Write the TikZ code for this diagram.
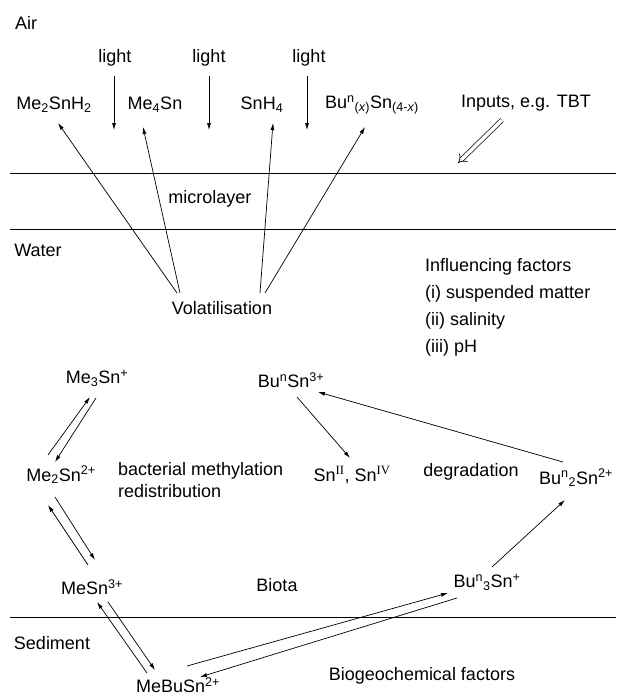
\documentclass[tikz,border=0pt]{standalone}
\usepackage{fontspec}
\setmainfont{Liberation Sans}
\newfontfamily\serifroman{Liberation Serif}
\usetikzlibrary{arrows.meta}
\tikzset{
  lbl/.style={inner sep=0pt, font=\fontsize{18}{21}\selectfont},
  arr/.style={line width=0.7pt, -{Latex[length=7pt,width=4pt]}},
  layer/.style={line width=0.9pt},
}
\begin{document}
\begin{tikzpicture}[x=1pt,y=-1pt]
\useasboundingbox (0,0) rectangle (616,696);
% layer boundaries
\draw[layer] (10,173) -- (616,173);
\draw[layer] (10,229) -- (616,229);
\draw[layer] (10,617) -- (616,617);
% region labels
\node[lbl] (air) at (26,23) {Air};
\node[lbl] (micro) at (210,199) {microlayer};
\node[lbl] (water) at (38,250) {Water};
\node[lbl] (sed) at (52,643) {Sediment};
% light
\node[lbl] (light1) at (115,58) {light};
\node[lbl] (light2) at (209,58) {light};
\node[lbl] (light3) at (309,58) {light};
\coordinate (l1e) at (114,130);
\coordinate (l2e) at (209,130);
\coordinate (l3e) at (307,130);
\draw[arr] ([shift={(-1,18)}]light1.center) -- (l1e);
\draw[arr] ([shift={(0,18)}]light2.center) -- (l2e);
\draw[arr] ([shift={(-2,18)}]light3.center) -- (l3e);
% volatile species
\node[lbl] (me2snh2) at (54,105) {Me\textsubscript{2}SnH\textsubscript{2}};
\node[lbl] (me4sn) at (155,105) {Me\textsubscript{4}Sn};
\node[lbl] (snh4) at (262,105) {SnH\textsubscript{4}};
\node[lbl] (buxsn) at (372,105) {Bu\textsuperscript{n}\textsubscript{(\textit{x})}Sn\textsubscript{(4-\textit{x})}};
\node[lbl] (inputs) at (526,103) {Inputs, e.g. TBT};
\coordinate (intip) at (458,163);
\draw[line width=0.7pt, double, double distance=3.5pt, -{Implies}] ([shift={(-24,17)}]inputs.center) -- (intip);
% volatilisation
\node[lbl] (vol) at (222,308) {Volatilisation};
\draw[arr] ([shift={(-45,-15)}]vol.center) -- ([shift={(4,18)}]me2snh2.center);
\draw[arr] ([shift={(-42,-15)}]vol.center) -- ([shift={(-12,22)}]me4sn.center);
\draw[arr] ([shift={(38,-15)}]vol.center) -- ([shift={(11,18)}]snh4.center);
\draw[arr] ([shift={(43,-15)}]vol.center) -- ([shift={(-7,22)}]buxsn.center);
% influencing factors
\node[lbl, anchor=west] (inf0) at (425,267) {Influencing factors};
\node[lbl, anchor=west] (inf1) at (425,294) {(i) suspended matter};
\node[lbl, anchor=west] (inf2) at (425,321) {(ii) salinity};
\node[lbl, anchor=west] (inf3) at (425,348) {(iii) pH};
% methyltins
\node[lbl] (me3) at (97,378) {Me\textsubscript{3}Sn\textsuperscript{+}};
\node[lbl] (me2) at (61,475) {Me\textsubscript{2}Sn\textsuperscript{2+}};
\node[lbl] (mesn) at (92,587) {MeSn\textsuperscript{3+}};
\node[lbl] (mebu) at (178,685) {MeBuSn\textsuperscript{2+}};
\node[lbl, anchor=west] (bact) at (118,471) {bacterial methylation};
\node[lbl, anchor=west] (redis) at (118,491) {redistribution};
\node[lbl] (biota) at (277,585) {Biota};
% butyltins
\node[lbl] (bu1) at (291,380) {Bu\textsuperscript{n}Sn\textsuperscript{3+}};
\node[lbl] (inorg) at (352,475) {Sn\textsuperscript{\serifroman II}, Sn\textsuperscript{\serifroman IV}};
\node[lbl] (degr) at (471,472) {degradation};
\node[lbl] (bu2) at (576,478) {Bu\textsuperscript{n}\textsubscript{2}Sn\textsuperscript{2+}};
\node[lbl] (bu3) at (487,582) {Bu\textsuperscript{n}\textsubscript{3}Sn\textsuperscript{+}};
\node[lbl] (biogeo) at (422,676) {Biogeochemical factors};
% methyl equilibria
\draw[arr] ([shift={(-13,-20)}]me2.center) -- ([shift={(-7,19)}]me3.center);
\draw[arr] ([shift={(-1,20)}]me3.center) -- ([shift={(-6,-13)}]me2.center);
\draw[arr] ([shift={(-6,22)}]me2.center) -- ([shift={(3,-27)}]mesn.center);
\draw[arr] ([shift={(-4,-22)}]mesn.center) -- ([shift={(-13,30)}]me2.center);
\draw[arr] ([shift={(-31,-12)}]mebu.center) -- ([shift={(5,15)}]mesn.center);
\draw[arr] ([shift={(16,15)}]mesn.center) -- ([shift={(-23,-15)}]mebu.center);
% butyl pathways
\draw[arr] ([shift={(6,17)}]bu1.center) -- ([shift={(-2,-17)}]inorg.center);
\draw[arr] ([shift={(-13,-16)}]bu2.center) -- ([shift={(27,12)}]bu1.center);
\draw[arr] ([shift={(5,-15)}]bu3.center) -- ([shift={(-11,22)}]bu2.center);
\draw[arr] ([shift={(9,-19)}]mebu.center) -- ([shift={(-39,11)}]bu3.center);
\draw[arr] ([shift={(-30,16)}]bu3.center) -- ([shift={(22,-8)}]mebu.center);
\end{tikzpicture}
\end{document}
